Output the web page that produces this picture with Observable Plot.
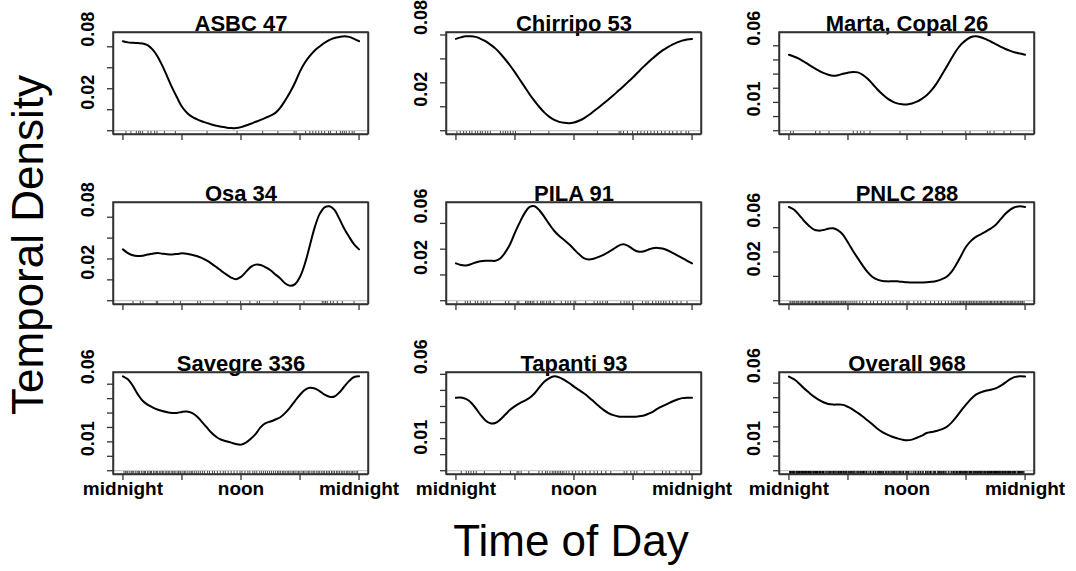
<!DOCTYPE html>
<html><head><meta charset="utf-8">
<script src="https://cdn.jsdelivr.net/npm/d3@7"></script>
<script src="https://cdn.jsdelivr.net/npm/@observablehq/plot@0.6"></script>
<style>
body{margin:0;background:#fff;}
#wrap{position:relative;width:1076px;height:571px;overflow:hidden;background:#fff;font-family:"Liberation Sans",Arial,Helvetica,sans-serif;}
</style></head><body><div id="wrap"></div>
<script>
// ---- data ----
const hours = [0,0.5,1,1.5,2,2.5,3,3.5,4,4.5,5,5.5,6,6.5,7,7.5,8,8.5,9,9.5,10,10.5,11,11.5,12,12.5,13,13.5,14,14.5,15,15.5,16,16.5,17,17.5,18,18.5,19,19.5,20,20.5,21,21.5,22,22.5,23,23.5,24];
const titles = ["ASBC 47","Chirripo 53","Marta, Copal 26","Osa 34","PILA 91","PNLC 288","Savegre 336","Tapanti 93","Overall 968"];

const densASBC = [0.0853,0.0842,0.0838,0.0835,0.0832,0.0815,0.0775,0.0710,0.0620,0.0516,
 0.0410,0.0316,0.0228,0.0172,0.0134,0.0110,0.0090,0.0075,0.0060,0.0047,
 0.0037,0.0030,0.0025,0.0025,0.0034,0.0050,0.0066,0.0085,0.0103,0.0123,
 0.0144,0.0170,0.0220,0.0290,0.0369,0.0460,0.0566,0.0650,0.0713,0.0765,
 0.0803,0.0838,0.0866,0.0884,0.0894,0.0900,0.0894,0.0875,0.0853];
const densChirripo = [0.0767,0.0780,0.0789,0.0789,0.0784,0.0768,0.0748,0.0720,0.0688,0.0645,
 0.0597,0.0545,0.0488,0.0426,0.0364,0.0303,0.0247,0.0196,0.0151,0.0116,
 0.0090,0.0074,0.0066,0.0063,0.0068,0.0083,0.0104,0.0131,0.0162,0.0194,
 0.0227,0.0261,0.0296,0.0333,0.0370,0.0408,0.0447,0.0488,0.0529,0.0568,
 0.0605,0.0640,0.0671,0.0697,0.0720,0.0738,0.0753,0.0763,0.0767];
const densMarta = [0.0537,0.0524,0.0509,0.0489,0.0467,0.0446,0.0426,0.0408,0.0395,0.0388,
 0.0392,0.0402,0.0410,0.0415,0.0412,0.0395,0.0367,0.0330,0.0291,0.0257,
 0.0228,0.0207,0.0193,0.0187,0.0186,0.0192,0.0205,0.0225,0.0251,0.0287,
 0.0333,0.0390,0.0449,0.0508,0.0565,0.0610,0.0640,0.0662,0.0667,0.0660,
 0.0647,0.0630,0.0612,0.0594,0.0577,0.0564,0.0553,0.0545,0.0537];
const densOsa = [0.0492,0.0457,0.0435,0.0429,0.0432,0.0442,0.0451,0.0457,0.0451,0.0446,
 0.0444,0.0448,0.0454,0.0450,0.0441,0.0428,0.0410,0.0386,0.0356,0.0322,
 0.0286,0.0252,0.0222,0.0206,0.0229,0.0276,0.0324,0.0346,0.0343,0.0320,
 0.0292,0.0252,0.0213,0.0165,0.0143,0.0159,0.0229,0.0356,0.0530,0.0705,
 0.0832,0.0895,0.0905,0.0870,0.0784,0.0689,0.0610,0.0540,0.0492];
const densPILA = [0.0290,0.0277,0.0274,0.0283,0.0297,0.0306,0.0310,0.0310,0.0310,0.0328,
 0.0374,0.0438,0.0528,0.0610,0.0682,0.0728,0.0733,0.0700,0.0649,0.0592,
 0.0541,0.0503,0.0472,0.0438,0.0400,0.0362,0.0331,0.0320,0.0326,0.0340,
 0.0356,0.0378,0.0400,0.0426,0.0438,0.0426,0.0400,0.0382,0.0382,0.0395,
 0.0408,0.0410,0.0405,0.0392,0.0372,0.0352,0.0331,0.0310,0.0290];
const densPNLC = [0.0770,0.0749,0.0708,0.0659,0.0619,0.0586,0.0576,0.0581,0.0592,0.0595,
 0.0578,0.0541,0.0478,0.0411,0.0349,0.0289,0.0235,0.0195,0.0173,0.0162,
 0.0159,0.0160,0.0159,0.0155,0.0151,0.0150,0.0149,0.0150,0.0151,0.0155,
 0.0162,0.0176,0.0195,0.0235,0.0297,0.0370,0.0443,0.0492,0.0524,0.0546,
 0.0568,0.0592,0.0622,0.0668,0.0714,0.0749,0.0770,0.0776,0.0770];
const densSavegre = [0.0655,0.0634,0.0589,0.0531,0.0485,0.0458,0.0440,0.0425,0.0414,0.0406,
 0.0401,0.0401,0.0408,0.0410,0.0401,0.0378,0.0341,0.0302,0.0263,0.0234,
 0.0215,0.0204,0.0195,0.0185,0.0181,0.0195,0.0222,0.0256,0.0302,0.0330,
 0.0341,0.0355,0.0371,0.0401,0.0440,0.0485,0.0527,0.0561,0.0575,0.0570,
 0.0552,0.0527,0.0513,0.0515,0.0543,0.0584,0.0623,0.0650,0.0655];
const densTapanti = [0.0454,0.0456,0.0447,0.0427,0.0390,0.0348,0.0313,0.0295,0.0297,0.0318,
 0.0348,0.0379,0.0402,0.0421,0.0437,0.0454,0.0482,0.0520,0.0555,0.0577,
 0.0588,0.0581,0.0565,0.0546,0.0524,0.0503,0.0482,0.0458,0.0431,0.0404,
 0.0379,0.0359,0.0346,0.0338,0.0336,0.0336,0.0336,0.0338,0.0342,0.0353,
 0.0367,0.0386,0.0402,0.0416,0.0431,0.0443,0.0452,0.0455,0.0454];
const densOverall = [0.0645,0.0627,0.0600,0.0566,0.0537,0.0509,0.0487,0.0469,0.0457,0.0453,
 0.0453,0.0451,0.0437,0.0419,0.0396,0.0371,0.0344,0.0317,0.0288,0.0265,
 0.0247,0.0233,0.0222,0.0213,0.0208,0.0213,0.0226,0.0240,0.0258,0.0265,
 0.0272,0.0283,0.0299,0.0328,0.0367,0.0412,0.0453,0.0491,0.0521,0.0537,
 0.0548,0.0555,0.0564,0.0582,0.0604,0.0627,0.0643,0.0647,0.0645];

// observation times (hours) for the rugs
const rugASBC = [0.31,0.81,1.36,1.6,1.77,2.0,2.55,2.85,3.22,3.46,4.21,5.33,8.55,11.6,14.2,15.75,17.4,17.6,18.57,19.0,19.3,19.6,19.9,20.2,20.5,20.9,21.1,21.7,22.1,22.3,22.5,22.7,23.0,23.3,23.5];
const rugChirripo = [0.1,0.44,0.78,1.05,1.39,1.63,1.97,2.21,2.48,2.69,2.99,3.23,3.5,4.52,4.79,5.03,5.27,5.54,5.81,6.05,7.58,9.45,14.38,16.59,16.76,17.03,17.44,17.95,18.46,18.8,19.14,19.48,19.82,20.16,20.5,20.9,21.25,21.69,22.03,22.47,22.88,23.39,23.66];
const rugMarta = [0.17,0.44,2.71,3.15,4.07,6.54,6.95,7.29,7.63,8.24,11.29,13.39,15.59,17.97,18.41,20.17,20.44,20.85,21.86,22.54];
const rugOsa = [1.02,1.77,2.04,3.39,3.53,5.16,5.84,7.6,7.87,9.23,10.59,11.95,12.9,13.65,13.88,15.34,15.68,18.4,20.26,20.43,20.6,20.77,21.11,21.38,21.79,22.3,23.49];
const rugPILA = [0.1,0.95,1.19,1.46,1.97,2.21,2.55,2.82,3.16,3.5,5.03,5.37,6.22,6.39,7.07,7.24,7.41,7.58,7.75,7.92,8.26,8.6,8.77,8.94,9.21,9.45,9.62,9.96,10.71,11.15,11.39,11.66,12.0,12.17,13.19,14.04,14.38,14.65,14.92,15.23,15.4,16.76,17.1,17.37,17.61,17.95,18.97,19.31,19.54,19.99,20.33,20.6,20.84,21.11,21.35,21.69,22.03,22.47,22.88,23.49];
const rugPNLC = [0.1,0.2,0.35,0.5,0.6,0.75,0.9,1.0,1.15,1.3,1.4,1.55,1.7,1.85,2.0,2.1,2.25,2.4,2.55,2.7,2.8,2.95,3.1,3.25,3.4,3.5,3.65,3.8,3.95,4.1,4.2,4.35,4.5,4.65,4.8,4.9,5.05,5.2,5.35,5.5,5.6,5.75,5.9,6.1,6.3,6.5,6.7,6.9,7.2,7.5,
 7.9,8.3,8.6,9.0,9.4,9.8,10.1,10.5,10.9,11.3,11.6,12.0,12.2,12.7,13.1,13.4,13.9,14.4,14.8,15.2,15.5,15.9,16.2,
 16.5,16.7,16.9,17.1,17.3,17.45,17.6,17.75,17.9,18.05,18.2,18.35,18.5,18.6,18.75,18.9,19.05,19.2,19.35,19.5,19.6,19.75,19.9,20.05,20.2,20.35,20.5,20.6,20.75,20.9,21.05,21.2,21.35,21.5,21.6,21.75,21.9,22.05,22.2,22.35,22.5,22.6,22.75,22.9,23.05,23.2,23.35,23.5,23.6,23.75,23.9];
const rugSavegre = [0.1,0.25,0.4,0.5,0.7,0.85,1.0,1.1,1.3,1.45,1.6,1.7,1.9,2.05,2.2,2.3,2.5,2.65,2.8,2.9,3.1,3.25,3.4,3.5,3.7,3.85,4.0,4.1,4.3,4.45,4.6,4.7,4.9,5.05,5.2,5.3,5.5,5.65,5.8,5.9,6.1,6.25,6.4,6.6,6.8,6.95,7.1,7.3,7.5,7.7,7.9,8.1,8.3,8.6,8.8,9.1,9.3,9.6,9.9,10.2,10.4,10.7,11.0,11.3,11.6,11.9,12.1,12.4,12.7,12.9,13.2,13.4,13.6,13.9,14.1,14.3,14.5,14.7,14.9,15.1,15.3,15.5,15.7,15.85,16.0,16.2,16.35,16.5,16.7,16.85,17.0,17.2,17.35,17.5,17.7,17.85,18.0,18.2,18.35,18.5,18.7,18.85,19.0,19.2,19.35,19.5,19.7,19.85,20.0,20.2,20.35,20.5,20.7,20.85,21.0,21.2,21.35,21.5,21.7,21.85,22.0,22.2,22.35,22.5,22.7,22.85,23.0,23.2,23.35,23.5,23.7,23.85];
const rugTapanti = [0.54,1.05,1.29,1.53,1.8,2.07,2.89,4.52,5.54,6.22,6.39,6.63,7.41,8.43,8.77,9.11,9.28,9.55,9.79,9.96,10.13,10.3,10.47,10.64,10.81,10.98,11.22,11.49,11.83,12.17,12.51,12.85,13.19,13.63,14.04,14.38,14.79,15.23,15.74,17.1,17.37,17.78,18.12,18.39,19.14,20.16,21.0,21.35,21.69,22.37,22.88,23.39,23.73];

// axes
const xTicks = [0,6,12,18,24];
const xLabelPos = [0,12,24];
const xLabelText = ["midnight","noon","midnight"];
const yTicks08 = [0,0.02,0.04,0.06,0.08];
const yTicks06 = [0,0.02,0.04,0.06];
const yTicks01 = [0,0.01,0.02,0.03,0.04,0.05,0.06];
const yLab08 = [0.02,0.08];
const yLab06 = [0.02,0.06];
const yLab01 = [0.01,0.06];

// ---- build ----
const rugOverall = [].concat(rugASBC, rugChirripo, rugMarta, rugOsa, rugPILA, rugPNLC, rugSavegre, rugTapanti);
const panels = [
  {dens: densASBC, rug: rugASBC, yt: yTicks08, yl: yLab08},
  {dens: densChirripo, rug: rugChirripo, yt: yTicks08, yl: yLab08},
  {dens: densMarta, rug: rugMarta, yt: yTicks01, yl: yLab01},
  {dens: densOsa, rug: rugOsa, yt: yTicks08, yl: yLab08},
  {dens: densPILA, rug: rugPILA, yt: yTicks06, yl: yLab06},
  {dens: densPNLC, rug: rugPNLC, yt: yTicks06, yl: yLab06},
  {dens: densSavegre, rug: rugSavegre, yt: yTicks01, yl: yLab01},
  {dens: densTapanti, rug: rugTapanti, yt: yTicks01, yl: yLab01},
  {dens: densOverall, rug: rugOverall, yt: yTicks01, yl: yLab01}
];

const wrap = document.getElementById("wrap");
const FONT = '"Liberation Sans", Arial, Helvetica, sans-serif';
const boxW = 255, boxH = 102, mL = 60, mR = 8, mT = 30, mB = 38;
const colLeft = [113, 446, 779], rowTop = [32, 202, 372];
const xDomain = [-0.96, 24.96];

panels.forEach((p, i) => {
  const r = Math.floor(i / 3), c = i % 3;
  const M = d3.max(p.dens);
  const yDomain = [-0.04 * M, 1.04 * M];
  const data = hours.map((h, k) => ({h, v: p.dens[k]}));
  const marks = [
    Plot.tickY([0], {y: d => d, stroke: "#c8c8c8", strokeWidth: 1.2}),
    Plot.tickX(p.rug, {x: d => d, insetTop: boxH - 3, stroke: "black", strokeWidth: 0.7}),
    Plot.line(data, {x: "h", y: "v", curve: "catmull-rom", stroke: "black", strokeWidth: 2}),
    // plot box (sides at the scale domain ends)
    Plot.tickX(xDomain, {x: d => d, stroke: "#333", strokeWidth: 1.5}),
    Plot.tickY(yDomain, {y: d => d, stroke: "#333", strokeWidth: 1.5}),
    Plot.axisY(p.yt, {tickSize: 6, tickFormat: () => "", label: null, stroke: "#333", strokeWidth: 1.3}),
    Plot.axisX(xTicks, {tickSize: 6, tickFormat: () => "", label: null, stroke: "#333", strokeWidth: 1.3}),
    Plot.text(p.yl, {y: d => d, text: d => d.toFixed(2), frameAnchor: "left", dx: -25, rotate: -90,
      fontSize: 18, fontWeight: "bold", fontFamily: FONT, fill: "black"}),
    Plot.text([titles[i]], {text: d => d, frameAnchor: "top", dy: -17, fontSize: 22, fontWeight: "bold", fontFamily: FONT, fill: "black"})
  ];
  if (r === 2) {
    marks.push(Plot.text(xLabelPos, {x: d => d, text: (d, j) => xLabelText[j], frameAnchor: "bottom", dy: 20,
      fontSize: 19, fontWeight: "bold", fontFamily: FONT, fill: "black"}));
  }
  const svg = Plot.plot({
    width: mL + boxW + mR, height: mT + boxH + mB,
    marginLeft: mL, marginRight: mR, marginTop: mT, marginBottom: mB,
    x: {domain: xDomain},
    y: {domain: yDomain},
    style: {background: "transparent", overflow: "visible", fontFamily: FONT},
    marks
  });
  // box outline drawn last, positioned through Plot's own scales
  const sx = svg.scale("x"), sy = svg.scale("y");
  const x0 = sx.apply(xDomain[0]), x1 = sx.apply(xDomain[1]);
  const y0 = sy.apply(yDomain[1]), y1 = sy.apply(yDomain[0]);
  d3.select(svg).append("rect")
    .attr("x", Math.min(x0, x1)).attr("y", Math.min(y0, y1))
    .attr("width", Math.abs(x1 - x0)).attr("height", Math.abs(y1 - y0))
    .attr("fill", "none").attr("stroke", "#333").attr("stroke-width", 1.5);
  svg.style.position = "absolute";
  svg.style.left = (colLeft[c] - mL) + "px";
  svg.style.top = (rowTop[r] - mT) + "px";
  svg.style.maxWidth = "none";
  wrap.appendChild(svg);
});

// outer axis titles
const over = d3.select(wrap).append("svg")
  .attr("width", 1076).attr("height", 571)
  .style("position", "absolute").style("left", "0px").style("top", "0px").style("pointer-events", "none");
over.append("text").attr("transform", "translate(43,245) rotate(-90)")
  .attr("text-anchor", "middle").attr("font-family", FONT).attr("font-size", 44).attr("fill", "black")
  .text("Temporal Density");
over.append("text").attr("x", 571).attr("y", 556)
  .attr("text-anchor", "middle").attr("font-family", FONT).attr("font-size", 44).attr("fill", "black")
  .text("Time of Day");
</script>
</body></html>
